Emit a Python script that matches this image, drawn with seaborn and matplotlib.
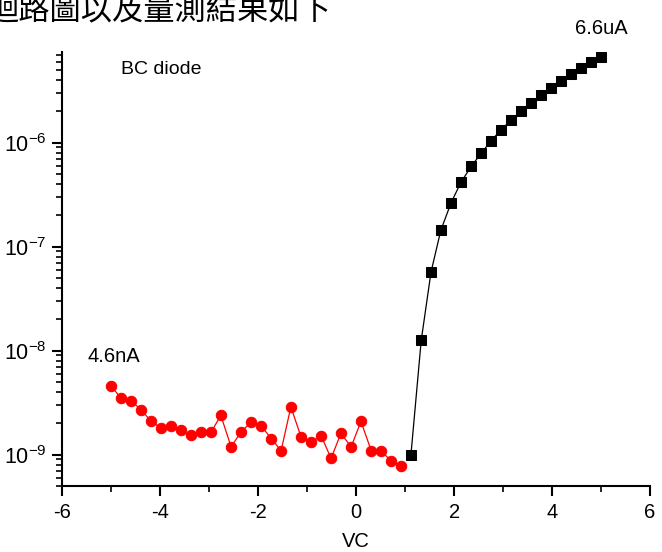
import matplotlib
matplotlib.use("Agg")
import matplotlib.pyplot as plt
import seaborn as sns
import numpy as np
import pandas as pd
from matplotlib.ticker import LogLocator, MultipleLocator, NullFormatter

# Data
vc_reverse = [-5.00, -4.80, -4.59, -4.39, -4.18, -3.98, -3.78, -3.57, -3.37, -3.16,
              -2.96, -2.76, -2.55, -2.35, -2.14, -1.94, -1.73, -1.53, -1.33, -1.12,
              -0.92, -0.71, -0.51, -0.31, -0.10, 0.10, 0.31, 0.51, 0.71, 0.92]
i_reverse = [4.6e-9, 3.5e-9, 3.3e-9, 2.7e-9, 2.1e-9, 1.8e-9, 1.89e-9, 1.71e-9, 1.53e-9, 1.66e-9,
             1.64e-9, 2.39e-9, 1.19e-9, 1.65e-9, 2.05e-9, 1.9e-9, 1.43e-9, 1.09e-9, 2.88e-9, 1.47e-9,
             1.33e-9, 1.51e-9, 9.2e-10, 1.6e-9, 1.19e-9, 2.09e-9, 1.09e-9, 1.09e-9, 8.75e-10, 7.7e-10]
vc_forward = [1.12, 1.33, 1.53, 1.73, 1.94, 2.14, 2.35, 2.55, 2.76, 2.96,
              3.16, 3.37, 3.57, 3.78, 3.98, 4.18, 4.39, 4.59, 4.80, 5.00]
i_forward = [1.0e-9, 1.26e-8, 5.71e-8, 1.44e-7, 2.65e-7, 4.16e-7, 5.92e-7, 7.88e-7, 1.05e-6, 1.33e-6,
             1.65e-6, 2.02e-6, 2.43e-6, 2.88e-6, 3.38e-6, 3.92e-6, 4.54e-6, 5.23e-6, 5.97e-6, 6.6e-6]
x_ticks = [-6, -4, -2, 0, 2, 4, 6]
title_text = "迴路圖以及量測結果如下"
annot_label = "BC diode"
annot_low = "4.6nA"
annot_high = "6.6uA"
x_label = "VC"

sns.set_style("ticks")
plt.rcParams['font.family'] = ['Liberation Sans', 'Noto Sans CJK TC', 'DejaVu Sans']
plt.rcParams['mathtext.default'] = 'regular'
plt.rcParams['axes.unicode_minus'] = False
plt.rcParams['text.color'] = 'black'
plt.rcParams['axes.labelcolor'] = 'black'
plt.rcParams['xtick.color'] = 'black'
plt.rcParams['ytick.color'] = 'black'

W, H = 662, 552
fig = plt.figure(figsize=(W / 100, H / 100), dpi=100)
ax = fig.add_axes([0.0937, 0.1196, 0.8883, 0.7867])

df_r = pd.DataFrame({"VC": vc_reverse, "I": i_reverse})
df_f = pd.DataFrame({"VC": vc_forward, "I": i_forward})

sns.lineplot(data=df_r, x="VC", y="I", ax=ax, color="red", linewidth=0.9,
             marker="o", markersize=7.5, markeredgecolor="red", markerfacecolor="red",
             sort=False, estimator=None)
sns.lineplot(data=df_f, x="VC", y="I", ax=ax, color="black", linewidth=0.9,
             marker="s", markersize=6.5, markeredgecolor="black", markerfacecolor="black",
             sort=False, estimator=None)

ax.set_yscale("log")
ax.set_xlim(-6, 6)
ax.set_ylim(5e-10, 7.5e-6)
ax.set_xticks(x_ticks)
ax.set_xticklabels([str(t) for t in x_ticks])
ax.xaxis.set_minor_locator(MultipleLocator(1))
ax.yaxis.set_major_locator(LogLocator(base=10, numticks=20))
ax.yaxis.set_minor_locator(LogLocator(base=10, subs=np.arange(2, 10), numticks=100))
ax.yaxis.set_minor_formatter(NullFormatter())

for s in ["top", "right"]:
    ax.spines[s].set_visible(False)
for s in ["left", "bottom"]:
    ax.spines[s].set_linewidth(1.5)
    ax.spines[s].set_color("black")

ax.tick_params(axis="both", which="major", direction="out", length=7, width=1.5,
               colors="black", pad=4)
ax.tick_params(axis="x", which="major", labelsize=14.5, pad=5)
ax.tick_params(axis="y", which="major", labelsize=15.5)
ax.tick_params(axis="both", which="minor", direction="out", length=4, width=1.2, colors="black")

ax.set_xlabel(x_label, fontsize=14.5, color="black", va="top")
ax.xaxis.set_label_coords(0.5, -0.106)
ax.set_ylabel("")

fig.text(121 / W, 1 - 70 / H, annot_label, fontsize=14, va="center", ha="left", color="black")
ax.annotate(annot_low, xy=(-5.0, 4.6e-9), xytext=(2, 14), textcoords="offset points",
            fontsize=14.5, ha="center", va="bottom", color="black")
ax.annotate(annot_high, xy=(5.0, 6.6e-6), xytext=(0, 14), textcoords="offset points",
            fontsize=14.5, ha="center", va="bottom", color="black")

fig.text(-13 / W, 1 + 5 / H, title_text, fontsize=22.5, ha="left", va="top",
         family=['Noto Sans CJK TC', 'DejaVu Sans'], fontweight="light", color="black")

fig.savefig("out.png", dpi=100)
